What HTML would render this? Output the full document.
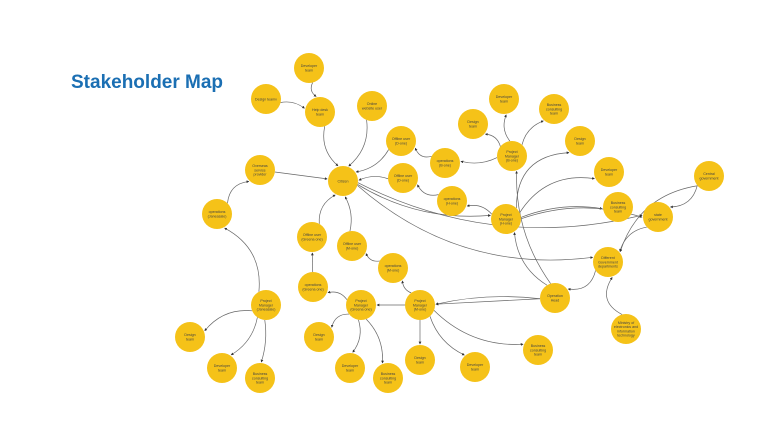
<!DOCTYPE html>
<html><head><meta charset="utf-8"><style>
html,body{margin:0;padding:0;background:#fff;width:768px;height:432px;overflow:hidden}
#title{position:absolute;left:71px;top:72px;font:bold 19px "Liberation Sans",sans-serif;color:#1b6fb3;margin:0}
svg{position:absolute;left:0;top:0}
</style></head><body>
<h1 id="title">Stakeholder Map</h1>
<svg id="map" width="768" height="432">
<defs><marker id="ah" viewBox="0 0 6 6" refX="5" refY="3" markerWidth="4" markerHeight="4" orient="auto"><path d="M0,0L6,3L0,6z" fill="#333"/></marker></defs>
<g id="edges"></g><g id="nodes"></g>
</svg>
<script>
const nodeIds=["dev1","des1","help","online","offD1","offD2","citizen","overseas","opsJ","devB","bctB","desB","pmB","desH","opsB","devH","central","bctH","state","pmH","opsH","offG","offM","opsM","opsG","pmJ","pmG","pmM","desJ","devJ","bctJ","desG","devG","bctG","desM","diffGov","opHead","ministry","bctM","devM"];
const nodeLabels=[["Developer","team"],["Design teamv"],["Help desk","team"],["Online","website user"],["Offline user","(D-one)"],["Offline user","(D-one)"],["Citizen"],["Overseas","service","provider"],["operations","(Janeasale)"],["Developer","team"],["Business","consulting","team"],["Design","team"],["Project","Manager","(B-one)"],["Design","team"],["operations","(B-one)"],["Developer","team"],["Central","government"],["Business","consulting","team"],["state","government"],["Project","Manager","(H-one)"],["operations","(H-one)"],["Offline user","(Greena one)"],["Offline user","(M-one)"],["operations","(M-one)"],["operations","(Greena one)"],["Project","Manager","(Janeasale)"],["Project","Manager","(Greena one)"],["Project","Manager","(M-one)"],["Design","team"],["Developer","team"],["Business","consulting","team"],["Design","team"],["Developer","team"],["Business","consulting","team"],["Design","team"],["Different","Government","departments"],["Operation","Head"],["Ministry of","electronics and","information","technology"],["Business","consulting","team"],["Developer","team"]];
const nodeX=[309,266,320,372,401,403,343,260,217,504,554,473,512,580,445,609,709,618,658,506,452,312,352,393,313,266,361,420,190,222,260,319,350,388,420,608,555,626,538,475];
const nodeY=[68,99,112,106,141,178,181,170,214,99,109,124,156,141,163,172,176,207,217,219,201,237,246,268,287,305,305,305,337,368,378,337,368,378,360,262,298,329,350,367];
const edgeFrom=["dev1","des1","help","online","offD1","offD2","overseas","opsJ","pmJ","pmJ","pmJ","pmJ","offG","offM","opsG","opsM","pmG","pmG","pmG","pmG","pmM","pmM","pmM","pmM","pmM","opsB","opsH","pmB","pmB","pmB","pmB","pmH","pmH","pmH","pmH","pmH","central","central","citizen","citizen","citizen","opHead","opHead","opHead","opHead","ministry","diffGov","state"];
const edgeTo=["help","help","citizen","citizen","citizen","citizen","citizen","overseas","opsJ","desJ","devJ","bctJ","citizen","citizen","offG","offM","opsG","desG","devG","bctG","opsM","pmG","desM","devM","bctM","offD1","offD2","opsB","desB","devB","bctB","opsH","desH","devH","bctH","state","state","diffGov","state","diffGov","pmH","pmM","pmM","pmB","pmH","diffGov","opHead","diffGov"];
const edgeBend=[8,-6,10,-10,-8,6,0,-12,14,10,-8,-4,-10,6,0,-8,8,10,-8,-8,-6,0,0,8,10,-10,-10,-6,8,-8,-8,8,-20,-14,-6,-8,-12,14,10,12,8,4,0,-8,-10,-18,-14,10];
const R=15,ns="http://www.w3.org/2000/svg";
const idx=id=>nodeIds.indexOf(id);
const eg=document.getElementById('edges'),ng=document.getElementById('nodes');
edgeFrom.forEach((f,i)=>{
 const a=idx(f),b=idx(edgeTo[i]);
 let x1=nodeX[a],y1=nodeY[a],x2=nodeX[b],y2=nodeY[b];
 const dx=x2-x1,dy=y2-y1,L=Math.hypot(dx,dy);
 const ux=dx/L,uy=dy/L;
 const sx=x1+ux*R,sy=y1+uy*R,ex=x2-ux*(R+1),ey=y2-uy*(R+1);
 const k=edgeBend[i]*L/60;
 const cx=(sx+ex)/2-uy*k,cy=(sy+ey)/2+ux*k;
 const p=document.createElementNS(ns,'path');
 p.setAttribute('d',`M${sx},${sy}Q${cx},${cy} ${ex},${ey}`);
 p.setAttribute('fill','none');p.setAttribute('stroke','#666');p.setAttribute('stroke-width','0.7');
 p.setAttribute('marker-end','url(#ah)');
 
 
 eg.appendChild(p);
});
nodeIds.forEach((id,i)=>{
 const g=document.createElementNS(ns,'g');
 
 
 const c=document.createElementNS(ns,'circle');
 c.setAttribute('cx',nodeX[i]);c.setAttribute('cy',nodeY[i]);c.setAttribute('r',R);c.setAttribute('fill','#F5C218');
 g.appendChild(c);
 const lines=nodeLabels[i],lh=4.2;
 const t=document.createElementNS(ns,'text');
 t.setAttribute('text-anchor','middle');t.setAttribute('font-size','3.6');
 t.setAttribute('font-family','Liberation Sans, sans-serif');t.setAttribute('fill','#444');
 lines.forEach((s,j)=>{const ts=document.createElementNS(ns,'tspan');ts.setAttribute('x',nodeX[i]);ts.setAttribute('y',nodeY[i]+1.3+(j-(lines.length-1)/2)*lh);ts.textContent=s;t.appendChild(ts);});
 g.appendChild(t);ng.appendChild(g);
});
</script>
</body></html>
